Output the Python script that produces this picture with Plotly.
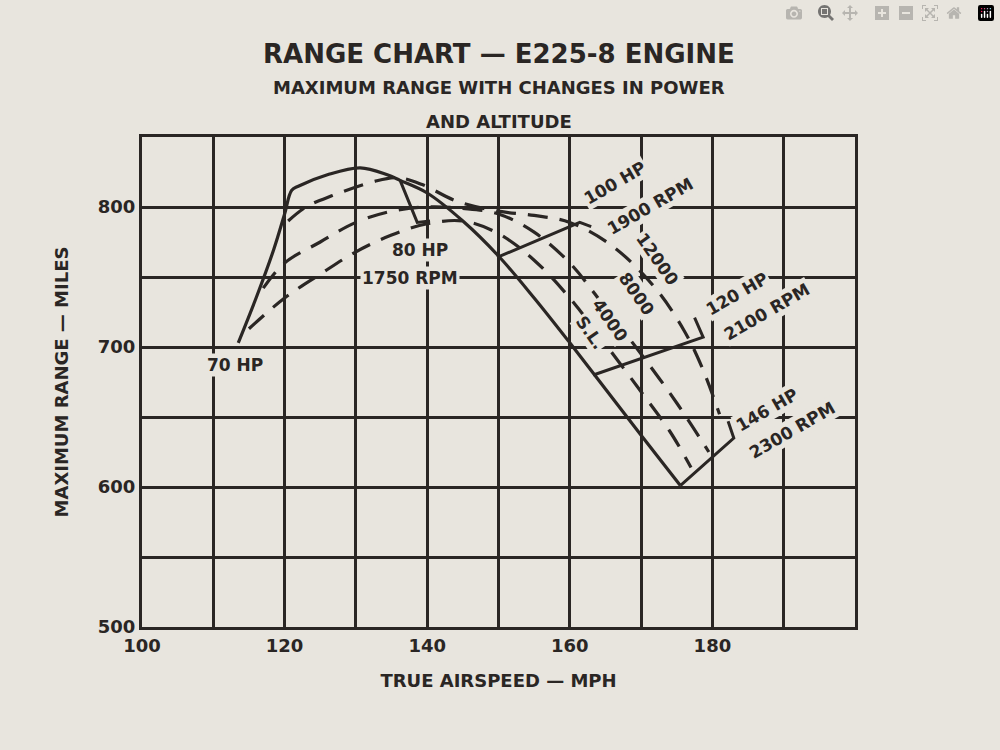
import plotly.graph_objects as go

# Altitude curves (true airspeed mph, range miles)
sl_x = [113.5, 116, 118.5, 120, 121, 122, 126, 130.6, 134.4, 136.2, 140, 145, 150, 155, 160, 165, 170, 175.5]
sl_y = [703, 735, 770, 795, 812, 815, 823, 828, 823, 819, 810, 790, 765, 735, 703, 670, 637, 601]
a4000_x = [115, 120, 125, 130, 135, 140, 145, 150, 155, 160, 165, 170, 174, 177]
a4000_y = [713, 735, 752, 768, 780, 788, 790, 781, 762, 735, 702, 668, 640, 614]
a8000_x = [117, 120, 125, 130, 135, 140, 145, 150, 155, 160, 165, 170, 175, 179.5]
a8000_y = [742, 760, 775, 789, 797, 800, 799, 795, 782, 760, 728, 695, 660, 625]
a12000_x = [120.5, 123, 126.6, 132.4, 135.8, 139.3, 144.2, 150, 155, 160, 166, 172, 176, 178.5, 181]
a12000_y = [790, 800, 808, 818, 821, 816, 804, 797, 794, 789, 772, 742, 712, 686, 652]

# Power lines
hp80_x = [136.2, 138.6, 140.4]
hp80_y = [819, 789, 790]
hp100_x = [149.8, 161.4, 163]
hp100_y = [764, 789, 786]
hp120_x = [163.3, 178.7, 177.5]
hp120_y = [680, 707, 721]
hp146_x = [175.5, 183, 182.2]
hp146_y = [601, 635, 647]

x_ticks = [100, 110, 120, 130, 140, 150, 160, 170, 180, 190, 200]
x_tick_text = ["100", "", "120", "", "140", "", "160", "", "180", "", ""]
y_ticks = [500, 550, 600, 650, 700, 750, 800, 850]
y_tick_text = ["500", "", "600", "", "700", "", "800", ""]

labels = ["70 HP", "80 HP", "1750 RPM", "100 HP", "1900 RPM", "12000", "8000", "4000", "S.L.",
          "120 HP", "2100 RPM", "146 HP", "2300 RPM"]
label_x = [113, 139, 137.6, 166.3, 171.3, 172.3, 169.4, 165.6, 162.9, 183.4, 187.6, 187.6, 191.2]
label_y = [687, 769, 749, 817, 801, 763, 738, 719, 710, 738, 725, 655, 641]
label_angle = [0, 0, 0, -30, -30, 55, 55, 55, 55, -30, -30, -30, -30]

ink = "#2a2624"
bg = "#e8e5de"
fnt = dict(family="DejaVu Sans", size=17, color=ink, weight=700)

fig = go.Figure()
def add(x, y, dash):
    fig.add_trace(go.Scatter(x=x, y=y, mode="lines", line=dict(color=ink, width=3.2, dash=dash, shape="spline"),
                             showlegend=False, hoverinfo="skip"))
add(sl_x, sl_y, "solid")
add(a4000_x, a4000_y, "20px,12px")
add(a8000_x, a8000_y, "20px,12px")
add(a12000_x, a12000_y, "20px,12px")
for xs, ys in [(hp80_x, hp80_y), (hp100_x, hp100_y), (hp120_x, hp120_y), (hp146_x, hp146_y)]:
    fig.add_trace(go.Scatter(x=xs, y=ys, mode="lines", line=dict(color=ink, width=3),
                             showlegend=False, hoverinfo="skip"))

for t, x, y, a in zip(labels, label_x, label_y, label_angle):
    fig.add_annotation(x=x, y=y, text=t, showarrow=False, textangle=a, font=fnt, bgcolor=bg)

fig.add_annotation(xref="paper", yref="paper", x=0.5, y=1.0, yshift=100, text="RANGE CHART — E225-8 ENGINE",
                   showarrow=False, font=dict(family="DejaVu Sans", size=26, color=ink, weight=700))
fig.add_annotation(xref="paper", yref="paper", x=0.5, y=1.0, yshift=62, text="MAXIMUM RANGE WITH CHANGES IN POWER",
                   showarrow=False, font=dict(family="DejaVu Sans", size=18, color=ink, weight=700))
fig.add_annotation(xref="paper", yref="paper", x=0.5, y=1.0, yshift=28, text="AND ALTITUDE",
                   showarrow=False, font=dict(family="DejaVu Sans", size=18, color=ink, weight=700))

axfont = dict(family="DejaVu Sans", size=18, color=ink, weight=700)
fig.update_layout(
    width=1000, height=750, paper_bgcolor=bg, plot_bgcolor=bg,
    margin=dict(l=142, r=145, t=137, b=123),
    xaxis=dict(range=[100, 200], tickvals=x_ticks, ticktext=x_tick_text, showgrid=True, gridcolor=ink, gridwidth=3,
               zeroline=False, showline=True, linecolor=ink, linewidth=3, mirror=True, tickfont=axfont,
               title=dict(text="TRUE AIRSPEED — MPH", font=axfont, standoff=20)),
    yaxis=dict(range=[500, 850], tickvals=y_ticks, ticktext=y_tick_text, showgrid=True, gridcolor=ink, gridwidth=3,
               zeroline=False, showline=True, linecolor=ink, linewidth=3, mirror=True, tickfont=axfont,
               title=dict(text="MAXIMUM RANGE — MILES", font=axfont, standoff=25)),
)
fig.write_html("out.html", post_script="document.body.style.margin='0';document.body.style.background='" + bg + "';")
